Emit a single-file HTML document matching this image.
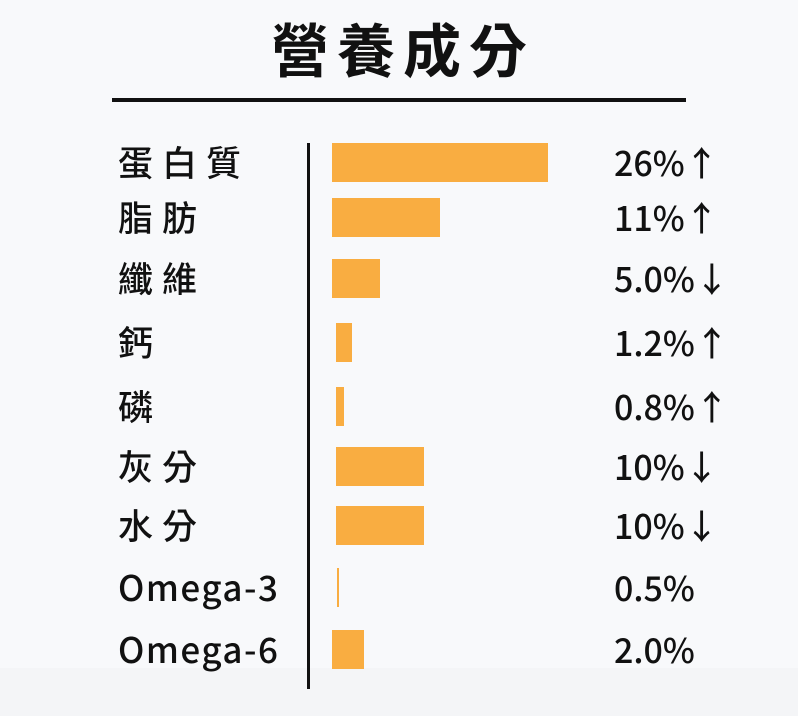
<!DOCTYPE html>
<html><head><meta charset="utf-8"><style>
body{margin:0;width:798px;height:716px;background:#f8f9fb;position:relative;overflow:hidden;font-family:"Liberation Sans","Noto Sans CJK TC",sans-serif;color:#111}
.bot{position:absolute;left:0;top:668px;width:798px;height:48px;background:#f4f5f7}
.t{position:absolute;left:0;width:798px;top:12px;text-align:center;font-size:58px;font-weight:bold;letter-spacing:8px;font-family:"Noto Sans CJK TC",sans-serif;line-height:70px;text-indent:8px}
.ul{position:absolute;left:112px;top:98px;width:574px;height:4px;background:#111}
.ax{position:absolute;left:307px;top:143px;width:3px;height:546px;background:#111}
.b{position:absolute;background:#f9ad41}
.l,.v{position:absolute;font-size:35px;line-height:40px;font-family:"Noto Sans CJK TC",sans-serif;font-weight:500}
.l{left:118px;letter-spacing:9px}
.v{left:614px;letter-spacing:0;font-size:34px}
</style></head><body>
<div class="bot"></div>
<div class="t">營養成分</div>
<div class="ul"></div>
<div class="ax"></div>
<div class="b" style="left:332px;top:143px;width:216px;height:39px"></div>
<div class="b" style="left:332px;top:198px;width:108px;height:39px"></div>
<div class="b" style="left:332px;top:259px;width:48px;height:39px"></div>
<div class="b" style="left:336px;top:323px;width:16px;height:39px"></div>
<div class="b" style="left:336px;top:387px;width:8px;height:39px"></div>
<div class="b" style="left:336px;top:447px;width:88px;height:39px"></div>
<div class="b" style="left:336px;top:506px;width:88px;height:39px"></div>
<div class="b" style="left:337px;top:568px;width:2px;height:39px"></div>
<div class="b" style="left:332px;top:630px;width:32px;height:39px"></div>
<div class="l" style="top:142px">蛋白質</div><div class="v" style="top:142px">26%↑</div>
<div class="l" style="top:197px">脂肪</div><div class="v" style="top:197px">11%↑</div>
<div class="l" style="top:258px">纖維</div><div class="v" style="top:258px">5.0%↓</div>
<div class="l" style="top:322px">鈣</div><div class="v" style="top:322px">1.2%↑</div>
<div class="l" style="top:386px">磷</div><div class="v" style="top:386px">0.8%↑</div>
<div class="l" style="top:446px">灰分</div><div class="v" style="top:446px">10%↓</div>
<div class="l" style="top:505px">水分</div><div class="v" style="top:505px">10%↓</div>
<div class="l" style="top:567px;letter-spacing:1.5px">Omega-3</div><div class="v" style="top:567px">0.5%</div>
<div class="l" style="top:629px;letter-spacing:1.5px">Omega-6</div><div class="v" style="top:629px">2.0%</div>
</body></html>
